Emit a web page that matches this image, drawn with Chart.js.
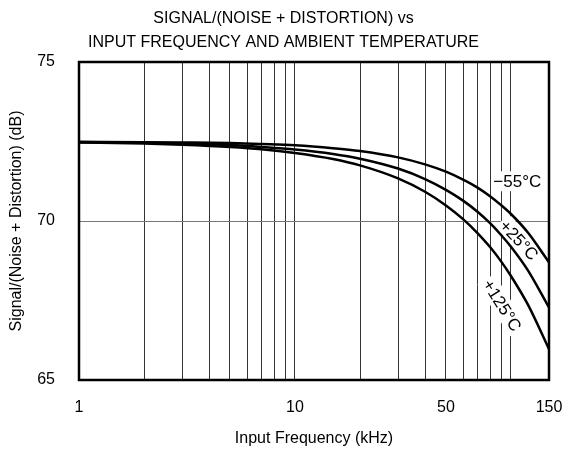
<!DOCTYPE html>
<html>
<head>
<meta charset="utf-8">
<script src="https://cdn.jsdelivr.net/npm/chart.js@4.4.0/dist/chart.umd.min.js"></script>
<style>
  html, body { margin: 0; padding: 0; background: #fff; }
  canvas { display: block; }
</style>
</head>
<body>
<canvas id="sinadChart" width="567" height="449"></canvas>
<script>
// values (kHz / dB)
const freqKHz = [1, 2, 3, 5, 7, 10, 15, 20, 30, 40, 50, 60, 70, 80, 90, 100, 120, 150];
const sinadMinus55 = [72.49, 72.48, 72.47, 72.45, 72.42, 72.38, 72.29, 72.20, 72.00, 71.78, 71.55, 71.30, 71.05, 70.78, 70.50, 70.22, 69.63, 68.70];
const sinadPlus25 = [72.48, 72.46, 72.44, 72.39, 72.33, 72.25, 72.11, 71.96, 71.65, 71.32, 70.98, 70.64, 70.29, 69.93, 69.56, 69.19, 68.44, 67.28];
const sinadPlus125 = [72.47, 72.44, 72.40, 72.33, 72.26, 72.14, 71.95, 71.75, 71.34, 70.92, 70.49, 70.06, 69.62, 69.18, 68.73, 68.27, 67.36, 65.97];

const gridFreqs = [1, 2, 3, 4, 5, 6, 7, 8, 9, 10, 20, 30, 40, 50, 60, 70, 80, 90, 100, 150];
const xTickLabels = [1, 10, 50, 150];
const yTicks = [65, 70, 75];

const FONT = "'Liberation Sans', Arial, sans-serif";

function toPoints(values) {
    return freqKHz.map((f, i) => ({ x: f, y: values[i] }));
}

// temperature labels sitting on the curves
const curveLabels = [
    { text: '\u221255\u00b0C', f: 107, v: 71.25, angle: 0 },
    { text: '+25\u00b0C', f: 109, v: 69.4, angle: 47 },
    { text: '+125\u00b0C', f: 91, v: 67.35, angle: 58 }
];

const labelPlugin = {
    id: 'curveLabels',
    beforeDatasetsDraw(chart) {
        const ctx = chart.ctx;
        const xs = chart.scales.x, ys = chart.scales.y;
        ctx.save();
        ctx.font = '17px ' + FONT;
        ctx.textAlign = 'center';
        ctx.textBaseline = 'middle';
        curveLabels.forEach(l => {
            const px = xs.getPixelForValue(l.f);
            const py = ys.getPixelForValue(l.v);
            const w = ctx.measureText(l.text).width;
            ctx.save();
            ctx.translate(px, py);
            ctx.rotate(l.angle * Math.PI / 180);
            ctx.fillStyle = '#fff';
            ctx.fillRect(-w / 2 - 2, -10, w + 4, 20);
            ctx.fillStyle = '#000';
            ctx.fillText(l.text, 0, 1);
            ctx.restore();
        });
        ctx.restore();
    }
};

const framePlugin = {
    id: 'frame',
    afterDatasetsDraw(chart) {
        const a = chart.chartArea;
        const ctx = chart.ctx;
        ctx.save();
        ctx.strokeStyle = '#000';
        ctx.lineWidth = 2.5;
        ctx.strokeRect(a.left, a.top, a.right - a.left, a.bottom - a.top);
        ctx.restore();
    }
};

const lineStyle = {
    borderColor: '#000',
    borderWidth: 2.5,
    pointRadius: 0,
    fill: false,
    cubicInterpolationMode: 'monotone'
};

const ctx = document.getElementById('sinadChart').getContext('2d');

const sinadChart = new Chart(ctx, {
    type: 'line',
    data: {
        datasets: [
            Object.assign({ label: '-55C', data: toPoints(sinadMinus55) }, lineStyle),
            Object.assign({ label: '+25C', data: toPoints(sinadPlus25) }, lineStyle),
            Object.assign({ label: '+125C', data: toPoints(sinadPlus125) }, lineStyle)
        ]
    },
    options: {
        responsive: false,
        animation: false,
        devicePixelRatio: 1,
        layout: { padding: { top: 7, right: 0, bottom: 0, left: 0 } },
        plugins: {
            legend: { display: false },
            tooltip: { enabled: false },
            title: {
                display: true,
                text: ['SIGNAL/(NOISE + DISTORTION) vs', 'INPUT FREQUENCY AND AMBIENT TEMPERATURE'],
                color: '#000',
                font: { family: FONT, size: 16, weight: 'normal', lineHeight: 1.5 },
                padding: { top: 0, bottom: 7 }
            }
        },
        scales: {
            x: {
                type: 'logarithmic',
                min: 1,
                max: 150,
                afterBuildTicks: scale => {
                    scale.ticks = gridFreqs.map(v => ({ value: v }));
                },
                afterFit: scale => {
                    scale.height = 69;
                    scale.paddingLeft = 0;
                    scale.paddingRight = 18;
                },
                ticks: {
                    autoSkip: false,
                    maxRotation: 0,
                    padding: 18,
                    color: '#000',
                    font: { family: FONT, size: 16 },
                    callback: v => xTickLabels.includes(v) ? String(v) : ''
                },
                grid: { color: '#333', lineWidth: 1, drawTicks: false },
                border: { display: false },
                title: {
                    display: true,
                    text: 'Input Frequency (kHz)',
                    color: '#000',
                    font: { family: FONT, size: 16 },
                    padding: { top: 0, bottom: 1 }
                }
            },
            y: {
                min: 65,
                max: 75,
                afterBuildTicks: scale => {
                    scale.ticks = yTicks.map(v => ({ value: v }));
                },
                afterFit: scale => { scale.width = 79; },
                ticks: {
                    padding: 24,
                    color: '#000',
                    font: { family: FONT, size: 16 }
                },
                grid: { color: '#777', lineWidth: 1, drawTicks: false },
                border: { display: false },
                title: {
                    display: true,
                    text: 'Signal/(Noise + Distortion) (dB)',
                    color: '#000',
                    font: { family: FONT, size: 16 },
                    padding: { top: 7, bottom: 0 }
                }
            }
        }
    },
    plugins: [labelPlugin, framePlugin]
});
</script>
</body>
</html>
